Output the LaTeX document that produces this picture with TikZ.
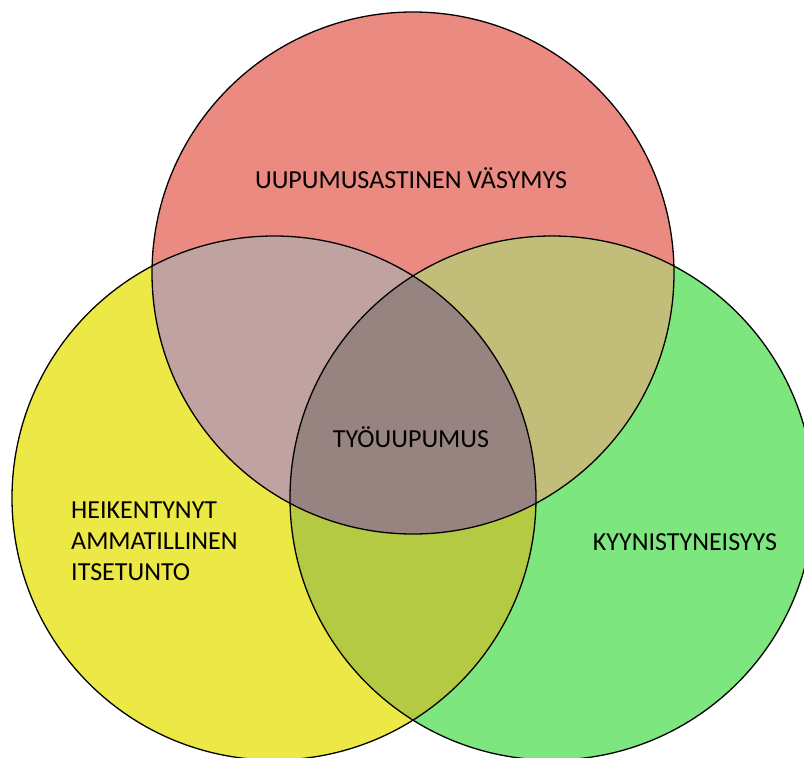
\documentclass[tikz,border=0pt]{standalone}
\usepackage{fontspec}
\setmainfont{Carlito}
\definecolor{vasred}{RGB}{234,138,128}
\definecolor{itseyellow}{RGB}{236,233,70}
\definecolor{kyygreen}{RGB}{126,230,126}
\definecolor{redyellow}{RGB}{192,163,160}
\definecolor{redgreen}{RGB}{194,190,122}
\definecolor{yellowgreen}{RGB}{181,202,67}
\definecolor{kaikki}{RGB}{151,131,128}
\tikzset{
  label/.style={font=\fontsize{26}{31}\selectfont, inner sep=0pt},
  outline/.style={draw=black, line width=1.3pt}
}
\begin{document}
\begin{tikzpicture}[x=1pt,y=-1pt]
  \useasboundingbox (0,0) rectangle (804,758);
  \clip (0,0) rectangle (804,758);
  \def\punainen{(413,273) circle (261)}
  \def\keltainen{(274,498) circle (262)}
  \def\vihrea{(552,498) circle (262)}
  % perusympyrat
  \fill[vasred] \punainen;
  \fill[itseyellow] \keltainen;
  \fill[kyygreen] \vihrea;
  % leikkaukset
  \begin{scope}
    \clip \keltainen;
    \fill[yellowgreen] \vihrea;
    \fill[redyellow] \punainen;
  \end{scope}
  \begin{scope}
    \clip \vihrea;
    \fill[redgreen] \punainen;
  \end{scope}
  \begin{scope}
    \clip \keltainen;
    \clip \vihrea;
    \fill[kaikki] \punainen;
  \end{scope}
  % reunat
  \draw[outline] \punainen;
  \draw[outline] \keltainen;
  \draw[outline] \vihrea;
  % tekstit
  \node[label] (vasymys) at (411,178) {UUPUMUSASTINEN VÄSYMYS};
  \node[label] (tyouupumus) at (411,437) {TYÖUUPUMUS};
  \node[label] (kyynisyys) at (685,542) {KYYNISTYNEISYYS};
  \node[label, anchor=west, align=left] (itsetunto) at (71,541)
    {HEIKENTYNYT\\AMMATILLINEN\\ITSETUNTO};
\end{tikzpicture}
\end{document}
